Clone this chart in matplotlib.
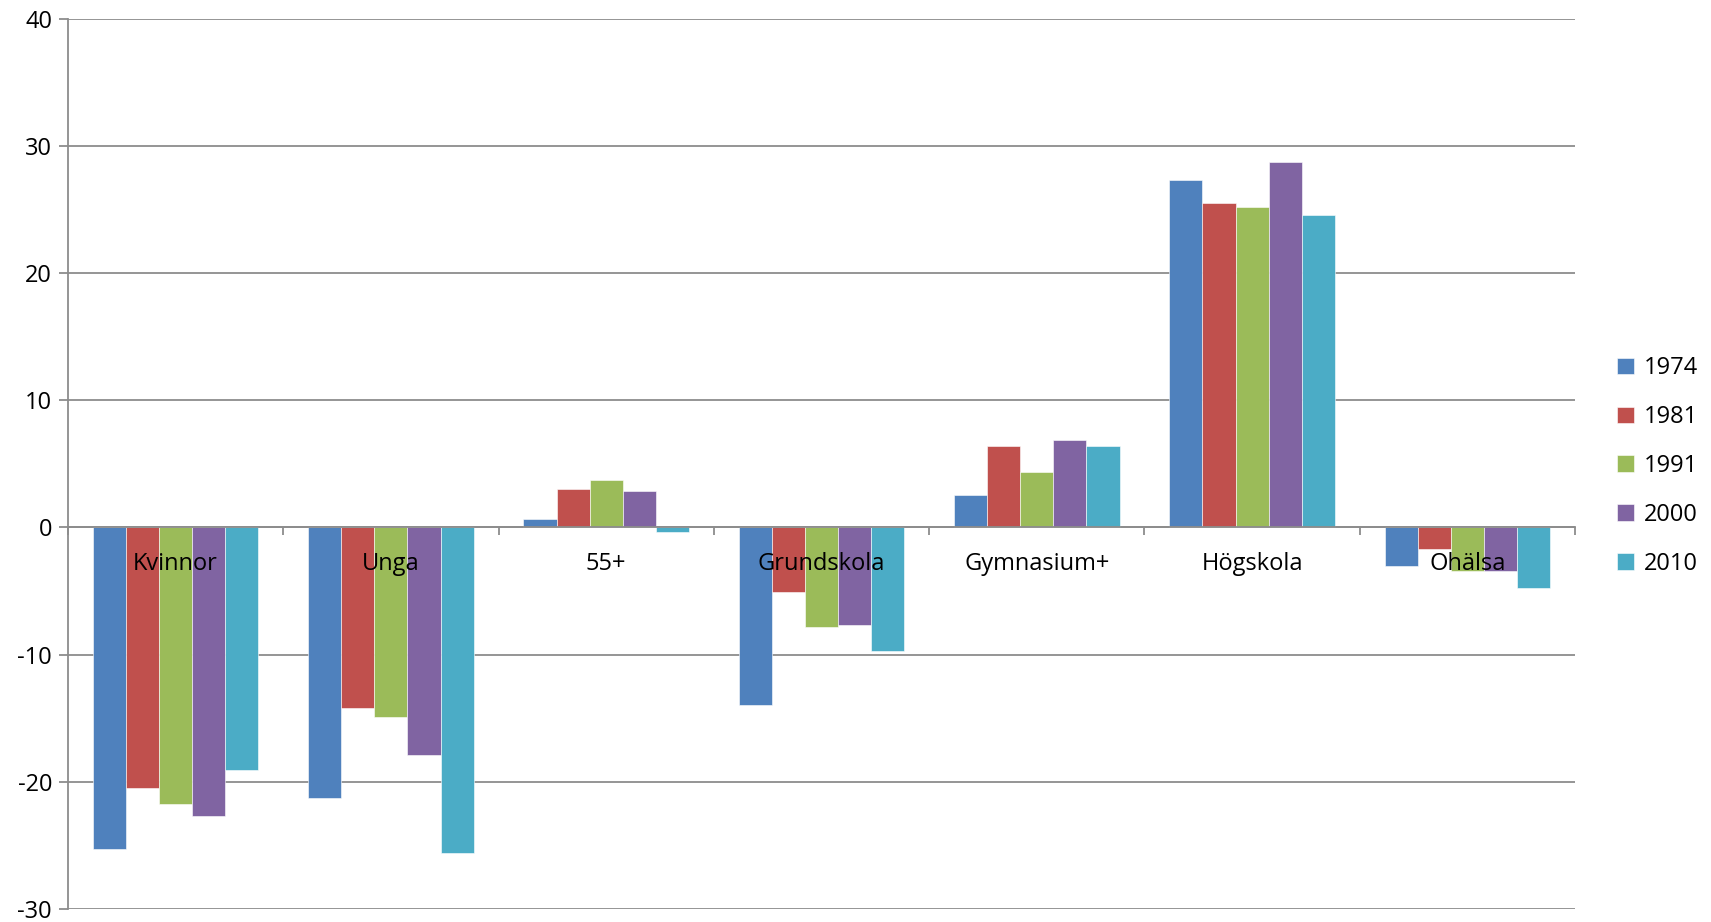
import matplotlib
matplotlib.use("Agg")
import matplotlib.pyplot as plt
import matplotlib.transforms as mtransforms
import numpy as np

categories = ["Kvinnor", "Unga", "55+", "Grundskola", "Gymnasium+", "Högskola", "Ohälsa"]
years = ["1974", "1981", "1991", "2000", "2010"]
v1974 = [-25.3, -21.3, 0.65, -14.0, 2.55, 27.35, -3.0]
v1981 = [-20.5, -14.2, 3.05, -5.1, 6.43, 25.5, -1.7]
v1991 = [-21.75, -14.95, 3.7, -7.87, 4.35, 25.2, -3.4]
v2000 = [-22.7, -17.9, 2.87, -7.68, 6.9, 28.75, -3.4]
v2010 = [-19.1, -25.6, -0.37, -9.72, 6.39, 24.6, -4.77]
series = [v1974, v1981, v1991, v2000, v2010]
colors = ["#4F81BD", "#C0504D", "#9BBB59", "#8064A2", "#4BACC6"]

plt.rcParams['font.family'] = ['Open Sans', 'DejaVu Sans']
plt.rcParams['axes.unicode_minus'] = False

fig = plt.figure(figsize=(17.11, 9.22), dpi=100)
ax = fig.add_axes([68/1711, 1-908.8/922, (1575-68)/1711, (908.8-18.8)/922])

n = len(series)
bw = 1/6.5
x = np.arange(len(categories))
for i, (vals, c, lab) in enumerate(zip(series, colors, years)):
    ax.bar(x + (i - (n-1)/2)*bw, vals, width=bw, color=c, label=lab,
           edgecolor="white", linewidth=0.4, zorder=2)

ax.set_xlim(-0.5, len(categories)-0.5)
ax.set_ylim(-30, 40)
ax.set_yticks(np.arange(-30, 41, 10))
ax.set_axisbelow(True)
ax.yaxis.grid(True, color="#8C8C8C", linewidth=1.3)
ax.tick_params(axis="y", length=6.5, width=1.3, color="#8C8C8C", labelsize=17, pad=5)

ax.spines['top'].set_visible(False)
ax.spines['right'].set_visible(False)
ax.spines['left'].set_color("#8C8C8C")
ax.spines['left'].set_linewidth(1.3)
ax.spines['bottom'].set_position(('data', 0))
ax.spines['bottom'].set_color("#8C8C8C")
ax.spines['bottom'].set_linewidth(1.3)
ax.set_xticks(np.arange(-0.5, len(categories), 1.0))
ax.set_xticklabels([])
ax.tick_params(axis="x", length=5.5, width=1.3, color="#8C8C8C", direction="out")

trans = mtransforms.offset_copy(ax.transData, fig=fig, x=0, y=-37, units='dots')
for xi, cat in zip(x, categories):
    ax.text(xi, 0, cat, transform=trans, ha="center", va="center", fontsize=17, zorder=5)

fig.legend(loc="center left", bbox_to_anchor=(1617/1711, 1-466/922), frameon=False,
           fontsize=17, handlelength=0.7, handleheight=0.7, handletextpad=0.45,
           labelspacing=1.05, borderaxespad=0, borderpad=0)

fig.savefig("out.png", dpi=100)
